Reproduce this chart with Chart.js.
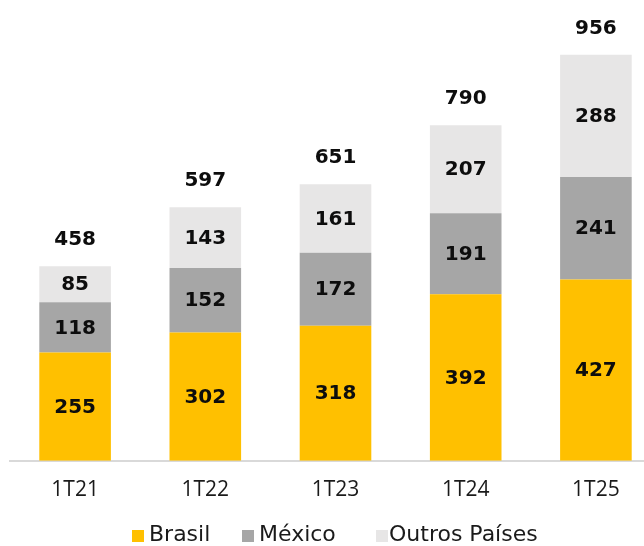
<!DOCTYPE html>
<html>
<head>
<meta charset="utf-8">
<script src="https://cdn.jsdelivr.net/npm/chart.js@4"></script>
<style>
  html, body { margin: 0; padding: 0; background: #ffffff; overflow: hidden; width: 644px; height: 546px; }
  #wrap { position: relative; width: 644px; height: 546px; overflow: hidden; }
  canvas { position: absolute; left: 0; top: 0; }
  .lg-box { position: absolute; width: 12px; height: 12px; }
  .lg-txt { position: absolute; font-family: "DejaVu Sans", sans-serif; font-size: 22px; line-height: 22px; color: #1a1a1a; white-space: nowrap; }
</style>
</head>
<body>
<div id="wrap">
  <canvas id="c" width="670" height="546" style="width:670px;height:546px"></canvas>
  <div class="lg-box" style="left:132px;top:530px;background:#FFC000"></div>
  <div class="lg-txt" style="left:149px;top:523px">Brasil</div>
  <div class="lg-box" style="left:242px;top:530px;background:#A6A6A6"></div>
  <div class="lg-txt" style="left:259px;top:523px">México</div>
  <div class="lg-box" style="left:376px;top:530px;background:#E7E6E6"></div>
  <div class="lg-txt" style="left:389px;top:523px">Outros Países</div>
</div>
<script>
const categories = ["1T21", "1T22", "1T23", "1T24", "1T25"];
const brasil = [255, 302, 318, 392, 427];
const mexico = [118, 152, 172, 191, 241];
const outros = [85, 143, 161, 207, 288];
const totals = [458, 597, 651, 790, 956];

const labelPlugin = {
  id: 'labels',
  afterDatasetsDraw(chart) {
    const ctx = chart.ctx;
    ctx.save();
    ctx.font = 'bold 20px "DejaVu Sans", sans-serif';
    ctx.fillStyle = '#0d0d0d';
    ctx.textAlign = 'center';
    ctx.textBaseline = 'middle';
    chart.data.datasets.forEach((ds, di) => {
      const meta = chart.getDatasetMeta(di);
      meta.data.forEach((bar, i) => {
        const mid = (bar.y + bar.base) / 2;
        ctx.fillText(String(ds.data[i]), bar.x, mid + 1);
      });
    });
    const yScale = chart.scales.y;
    const lastMeta = chart.getDatasetMeta(chart.data.datasets.length - 1);
    lastMeta.data.forEach((bar, i) => {
      const top = yScale.getPixelForValue(totals[i]);
      ctx.fillText(String(totals[i]), bar.x, top - 26);
    });
    ctx.restore();
  }
};

new Chart(document.getElementById('c'), {
  type: 'bar',
  data: {
    labels: categories,
    datasets: [
      { label: 'Brasil', data: brasil, backgroundColor: '#FFC000' },
      { label: 'México', data: mexico, backgroundColor: '#A6A6A6' },
      { label: 'Outros Países', data: outros, backgroundColor: '#E7E6E6' }
    ]
  },
  options: {
    responsive: false,
    animation: false,
    devicePixelRatio: 1,
    layout: { padding: { left: 10, right: 9, top: 36, bottom: 26 } },
    datasets: { bar: { barPercentage: 1, categoryPercentage: 0.55, borderWidth: 0 } },
    plugins: { legend: { display: false }, tooltip: { enabled: false } },
    scales: {
      x: {
        stacked: true,
        grid: { display: false, drawTicks: false },
        border: { display: true, color: '#D9D9D9', width: 2 },
        ticks: { color: '#1a1a1a', padding: 17, font: { family: '"Open Sans", sans-serif', size: 21 } }
      },
      y: {
        stacked: true,
        display: false,
        min: 0,
        max: 1000
      }
    }
  },
  plugins: [labelPlugin]
});
</script>
</body>
</html>
